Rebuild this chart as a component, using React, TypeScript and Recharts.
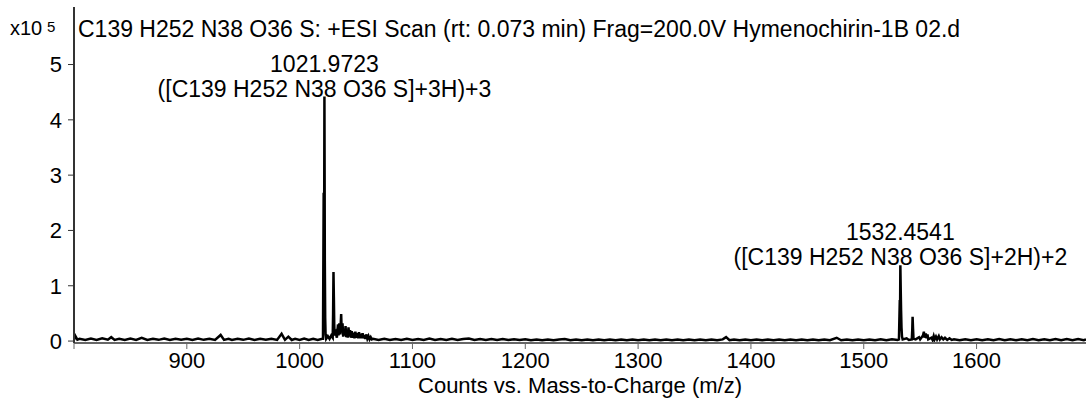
import { LineChart, Line, XAxis, YAxis, ReferenceDot } from 'recharts';

const FONT = '"Liberation Sans", Arial, Helvetica, sans-serif';

const TITLE = 'C139 H252 N38 O36 S: +ESI Scan (rt: 0.073 min) Frag=200.0V Hymenochirin-1B 02.d';
const X_LABEL = 'Counts vs. Mass-to-Charge (m/z)';

const xTicks = [800, 900, 1000, 1100, 1200, 1300, 1400, 1500, 1600];
const yTicks = [0, 1, 2, 3, 4, 5];

// [m/z, counts x10^5] -- baseline noise
const noise: [number, number][] = [
    [800, .02], [801, .1], [803, .025], [805, .04], [810, .02], [815, .045], [820, .022], [825, .05], [830, .025], [833, .07],
    [836, .02], [840, .04], [845, .02], [850, .045], [855, .022], [860, .06], [865, .02], [870, .04], [875, .022], [880, .045],
    [885, .02], [890, .04], [895, .022], [900, .04], [905, .02], [910, .045], [915, .022], [920, .04], [925, .02], [930, .11],
    [933, .022], [937, .04], [940, .02], [945, .04], [950, .022], [955, .045], [960, .02], [965, .04], [970, .022], [975, .04],
    [980, .02], [984, .13], [987, .022], [990, .08], [993, .02], [996, .04], [1000, .022], [1004, .045], [1008, .02],
    [1012, .04], [1016, .022], [1020, .04],
    [1065, .04], [1070, .02], [1075, .04], [1080, .018], [1085, .038], [1090, .02], [1095, .04], [1100, .018],
    [1105, .038], [1110, .02], [1115, .045], [1120, .018], [1125, .038], [1130, .02], [1135, .04], [1140, .018], [1145, .038], [1150, .045],
    [1155, .018], [1160, .036], [1165, .02], [1170, .036], [1175, .018], [1180, .036], [1185, .02], [1190, .034], [1195, .018], [1200, .034],
    [1205, .015], [1210, .03], [1215, .015], [1220, .03], [1225, .016], [1230, .03], [1235, .038], [1240, .015], [1245, .03], [1250, .015],
    [1255, .03], [1260, .015], [1265, .03], [1270, .016], [1275, .03], [1280, .015], [1285, .03], [1290, .015], [1295, .03], [1300, .016],
    [1305, .03], [1310, .015], [1315, .03], [1320, .015], [1325, .03], [1330, .016], [1335, .03], [1340, .015], [1345, .03], [1350, .015],
    [1355, .03], [1360, .016], [1365, .03], [1370, .015], [1375, .03], [1378, .07], [1381, .015], [1385, .03], [1390, .015], [1395, .03],
    [1400, .016], [1405, .03], [1410, .015], [1415, .03], [1420, .015], [1425, .03], [1430, .016], [1435, .03], [1440, .015], [1445, .03],
    [1450, .015], [1455, .03], [1460, .016], [1465, .03], [1470, .015], [1476, .06], [1480, .015], [1485, .03], [1490, .015], [1495, .03],
    [1500, .016], [1505, .03], [1510, .015], [1515, .032], [1520, .016], [1525, .032], [1530, .02],
    [1580, .032], [1585, .015], [1590, .032], [1595, .016], [1600, .032], [1605, .015], [1610, .032], [1615, .016], [1620, .036], [1625, .015],
    [1630, .032], [1635, .016], [1640, .032], [1645, .015], [1650, .036], [1655, .016], [1660, .032], [1665, .015], [1670, .036], [1675, .016],
    [1680, .036], [1685, .016], [1690, .036], [1695, .016], [1697, .032],
];

// +3 charge state cluster
const cluster1022: [number, number][] = [
    [1020.7, .04], [1021.3, 2.68], [1021.64, 1.1], [1021.97, 4.42], [1022.31, 1.46], [1022.64, .42], [1023.0, .12], [1023.5, .04],
    [1025, .09], [1026.5, .04], [1028, .1], [1029.3, .06], [1029.66, .5], [1030.0, 1.25], [1030.33, .8], [1030.66, .3], [1031.0, .1],
    [1032, .15], [1033, .06], [1034.0, .3], [1034.5, .1], [1035.2, .32], [1036, .12], [1036.8, .49], [1037.3, .15], [1038, .32],
    [1038.6, .08], [1039.3, .22], [1040, .1], [1040.7, .27], [1041.3, .07], [1042, .2], [1042.6, .06], [1043.3, .25], [1044, .08],
    [1044.7, .2], [1045.4, .06], [1046.2, .18], [1047, .06], [1047.8, .15], [1048.6, .05], [1049.4, .17], [1050.2, .06],
    [1051, .14], [1051.8, .05], [1052.6, .16], [1053.4, .05], [1054.2, .13], [1055, .05], [1055.8, .14], [1056.6, .05],
    [1057.4, .11], [1058.2, .04], [1059, .12], [1060, .04], [1061, .09], [1062, .03], [1063, .07], [1064, .03],
];

// +2 charge state cluster
const cluster1532: [number, number][] = [
    [1531.2, .03], [1531.95, .74], [1532.2, .5], [1532.45, 1.37], [1532.8, .9], [1533.1, .55], [1533.45, .25], [1533.9, .08],
    [1534.5, .03], [1538, .05], [1540, .02], [1542.6, .03], [1543.0, .2], [1543.3, .44], [1543.7, .22], [1544.1, .04],
    [1546, .03], [1549, .07], [1550, .03], [1552.5, .1], [1553.3, .17], [1553.8, .06], [1555, .14], [1555.7, .05], [1556.5, .12],
    [1557.2, .03], [1560, .06], [1561, .02], [1562, .09], [1562.8, .03], [1564, .08], [1565, .03], [1566.5, .09], [1567.5, .03],
    [1569, .07], [1570.5, .03], [1572, .06], [1574, .02], [1576, .05], [1578, .02],
];

const annotations = [
    { mz: 1021.9723, top: 4.42, mass: '1021.9723', ion: '([C139 H252 N38 O36 S]+3H)+3' },
    { mz: 1532.4541, top: 1.37, mass: '1532.4541', ion: '([C139 H252 N38 O36 S]+2H)+2' },
];

const inCluster = (mz: number) => (mz > 1020.5 && mz < 1064.5) || (mz > 1531 && mz < 1578.5);

const spectrum = [...noise.filter(([mz]) => !inCluster(mz)), ...cluster1022, ...cluster1532]
    .sort((a, b) => a[0] - b[0])
    .map(([mz, counts]) => ({ mz, counts }));

export default function App() {
    return (
        <div style={{ position: 'absolute', left: 0, top: 0, width: 1086, height: 400, background: '#fff', fontFamily: FONT }}>
            <LineChart
                width={1086}
                height={400}
                data={spectrum}
                margin={{ top: 7, right: 0, left: 0, bottom: 0 }}
                style={{ fontFamily: FONT }}
            >
                <XAxis
                    xAxisId="top"
                    orientation="top"
                    dataKey="mz"
                    type="number"
                    domain={[800, 1697]}
                    height={0}
                    tick={false}
                    tickLine={false}
                    axisLine={{ stroke: '#3a3a3a', strokeWidth: 2 }}
                />
                <XAxis
                    dataKey="mz"
                    type="number"
                    domain={[800, 1697]}
                    ticks={xTicks}
                    interval={0}
                    allowDataOverflow
                    height={57}
                    tickSize={6}
                    tickMargin={3}
                    tickFormatter={(v) => (v === 800 ? '' : String(v))}
                    tick={{ fill: '#000', fontSize: 22 }}
                    tickLine={{ stroke: '#666' }}
                    axisLine={{ stroke: '#666', strokeWidth: 2 }}
                    label={{ value: X_LABEL, position: 'insideBottom', offset: 7, fontSize: 22, fill: '#000' }}
                />
                <YAxis
                    domain={[-0.035, 6.04]}
                    ticks={yTicks}
                    interval={0}
                    allowDataOverflow
                    width={74}
                    tickSize={6}
                    tickMargin={6}
                    tick={{ fill: '#000', fontSize: 22 }}
                    tickLine={{ stroke: '#333' }}
                    axisLine={{ stroke: '#333', strokeWidth: 2 }}
                />
                <Line
                    type="linear"
                    dataKey="counts"
                    stroke="#000"
                    strokeWidth={2.5}
                    dot={false}
                    activeDot={false}
                    isAnimationActive={false}
                />
                {annotations.map((a) => [
                    <ReferenceDot
                        key={a.mass}
                        x={a.mz}
                        y={a.top}
                        r={0}
                        label={{ value: a.mass, position: 'top', offset: 25, fontSize: 23, fill: '#000' }}
                    />,
                    <ReferenceDot
                        key={a.ion}
                        x={a.mz}
                        y={a.top}
                        r={0}
                        label={{ value: a.ion, position: 'top', offset: 0, fontSize: 23, fill: '#000' }}
                    />,
                ])}
            </LineChart>
            <svg width={1086} height={60} style={{ position: 'absolute', left: 0, top: 0, pointerEvents: 'none' }}>
                <text x={10} y={35} fontSize={20} fill="#000" fontFamily={FONT}>x10</text>
                <text x={47} y={32} fontSize={15} fill="#000" fontFamily={FONT}>5</text>
                <text x={78} y={37} fontSize={23} fill="#000" fontFamily={FONT}>{TITLE}</text>
            </svg>
        </div>
    );
}
